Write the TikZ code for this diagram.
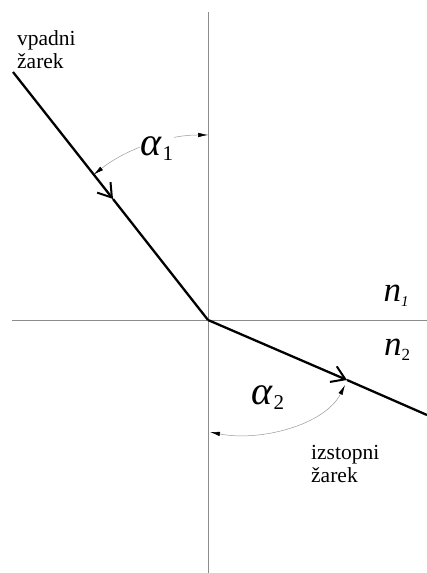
\documentclass[tikz,border=0pt]{standalone}
\usepackage{fontspec}
\setmainfont{Liberation Serif}
\usetikzlibrary{arrows.meta}
\tikzset{
  axis/.style={gray!90, line width=0.8pt},
  ray/.style={line width=2.3pt},
  raytip/.style={-{Straight Barb[length=13pt,width=17pt,line width=2pt]}},
  anglearc/.style={gray!80, line width=0.5pt,
    {Latex[black,length=10pt,width=4.5pt]}-{Latex[black,length=10pt,width=4.5pt]}},
  lbl/.style={inner sep=0pt, align=left, font=\fontsize{21.5}{23}\selectfont},
}
\newcommand{\angsym}[1]{{\fontsize{40}{42}\selectfont\textit{α}}{\fontsize{21}{22}\selectfont\raisebox{-5pt}{#1}}}
\begin{document}
\begin{tikzpicture}[x=1pt,y=-1pt]
\useasboundingbox (0,0) rectangle (427,573);
% axes
\coordinate (o) at (208,320);
\coordinate (top) at (208,12);
\coordinate (bot) at (208,573);
\coordinate (left) at (12,320);
\coordinate (right) at (427,320);
\draw[axis] (top) -- (bot);
\draw[axis] (left) -- (right);
% rays
\coordinate (in) at (13,72);
\coordinate (inm) at (113,199);
\coordinate (out) at (427,415);
\coordinate (outm) at (347,380);
\draw[ray, raytip] (in) -- (inm);
\draw[ray] (inm) -- (o);
\draw[ray, raytip] (o) -- (outm);
\draw[ray] (outm) -- (out);
% angles
\coordinate (a1s) at (93.7,174.6);
\coordinate (a2s) at (210,432);
\coordinate (a2e) at (345,385);
\draw[anglearc] (a1s) arc[start angle=128.2, end angle=90, radius=185pt];
\draw[anglearc] (a2s) .. controls (260,442) and (325,425) .. (a2e);
% labels
\node[fill=white, inner sep=1pt] (al1) at (157,149) {\angsym{1}};
\node[inner sep=1pt] (al2) at (268,398) {\angsym{2}};
\node[lbl, anchor=north west] (vp) at (17,30.5) {vpadni\\žarek};
\node[lbl, anchor=north west] (iz) at (311,445.5) {izstopni\\žarek};
\node[inner sep=0pt] (n1) at (396,296) {\fontsize{35}{36}\selectfont\textit{n}{\fontsize{15}{16}\selectfont\raisebox{-5pt}{\textit{1}}}};
\node[inner sep=0pt] (n2) at (397,350) {\fontsize{35}{36}\selectfont\textit{n}{\fontsize{17}{18}\selectfont\raisebox{-5pt}{2}}};
\end{tikzpicture}
\end{document}
